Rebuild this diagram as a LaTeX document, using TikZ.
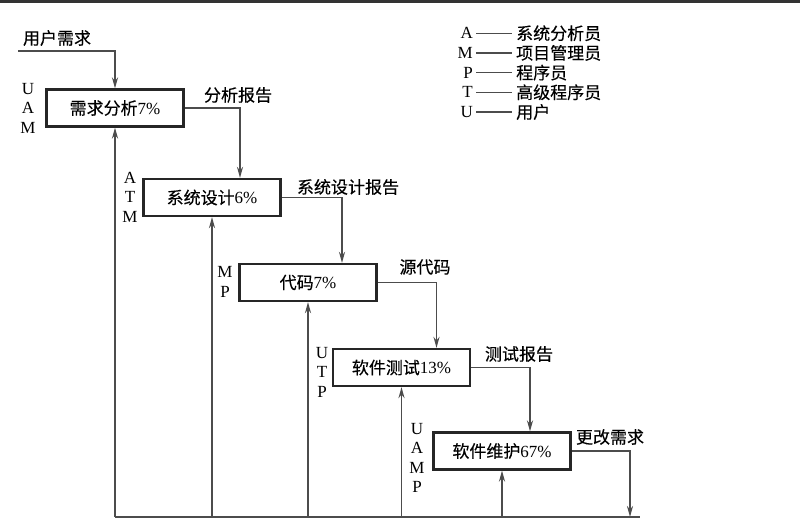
\documentclass[tikz,border=0pt]{standalone}
\usepackage{fontspec}
\setmainfont{Liberation Serif}
\newfontfamily\cjk[FakeBold=0.3]{Noto Sans CJK SC}
\usetikzlibrary{arrows.meta}
\newcommand{\zh}[1]{{\cjk #1}}

\begin{document}
\begin{tikzpicture}[x=1pt, y=-1pt,
    caixa/.style={draw=black!85, line width=2.2pt, minimum width=137pt, minimum height=37pt,
      inner sep=0pt, font=\fontsize{17}{19.5}\selectfont},
    rotulo/.style={inner sep=0pt, font=\fontsize{17}{19.5}\selectfont},
    papel/.style={inner sep=0pt, align=center, font=\fontsize{17}{19.5}\selectfont},
    linha/.style={draw=black!70, line width=1.8pt},
    seta/.style={linha, -{Stealth[length=11pt, width=6pt]}}]
  \useasboundingbox (0,0) rectangle (800,530);
  \fill[black!80] (0,0) rectangle (800,2.5);

  % Fases do ciclo de vida
  \node[caixa] (req) at (115,108)   {\zh{需求分析}7\%};
  \node[caixa] (sis) at (212,197.5) {\zh{系统设计}6\%};
  \node[caixa] (cod) at (308,282.5) {\zh{代码}7\%};
  \node[caixa] (tes) at (401.5,367.5) {\zh{软件测试}13\%};
  \node[caixa] (man) at (502,451)   {\zh{软件维护}67\%};

  % Papeis ao lado de cada fase
  \node[papel] (pReq) at (28,108)  {U\\A\\M};
  \node[papel] (pSis) at (130,197) {A\\T\\M};
  \node[papel] (pCod) at (225,282) {M\\P};
  \node[papel] (pTes) at (322,372) {U\\T\\P};
  \node[papel] (pMan) at (417,458) {U\\A\\M\\P};

  % Entrada e documentos entre as fases
  \coordinate (entrada) at (18,51);
  \node[rotulo] (tEntrada) at (57,38) {\zh{用户需求}};
  \draw[seta] (entrada) -| (req.north);
  \draw[seta] (req.east) -| ([xshift=28pt]sis.north);
  \node[rotulo] (tReq) at (238,95) {\zh{分析报告}};
  \draw[seta] (sis.east) -| ([xshift=34pt]cod.north);
  \node[rotulo] (tSis) at (348,187) {\zh{系统设计报告}};
  \draw[seta] (cod.east) -| ([xshift=35pt]tes.north);
  \node[rotulo] (tCod) at (425,267) {\zh{源代码}};
  \draw[seta] (tes.east) -| ([xshift=28pt]man.north);
  \node[rotulo] (tTes) at (519,354) {\zh{测试报告}};

  % Linha de base e retornos
  \coordinate (base) at (115,517);
  \coordinate (fim) at (640,517);
  \coordinate (saida) at (630,517);
  \draw[linha] (base) -- (fim);
  \foreach \n in {req,sis,cod,tes,man}
    \draw[seta] (\n.south |- base) -- (\n.south);
  \draw[seta] (man.east) -| (saida);
  \node[rotulo] (tMan) at (610,437) {\zh{更改需求}};

  % Legenda
  \foreach \l/\t [count=\i] in {A/系统分析员, M/项目管理员, P/程序员, T/高级程序员, U/用户} {
    \node[rotulo, anchor=east] (leg\i) at (473,13.5+19.7*\i) {\l};
    \node[rotulo, anchor=west] (legt\i) at (516,13.5+19.7*\i) {\zh{\t}};
    \draw[linha, line width=1.3pt, shorten <=3pt, shorten >=4pt] (leg\i.east) -- (leg\i.east -| legt\i.west);
  }
\end{tikzpicture}
\end{document}
